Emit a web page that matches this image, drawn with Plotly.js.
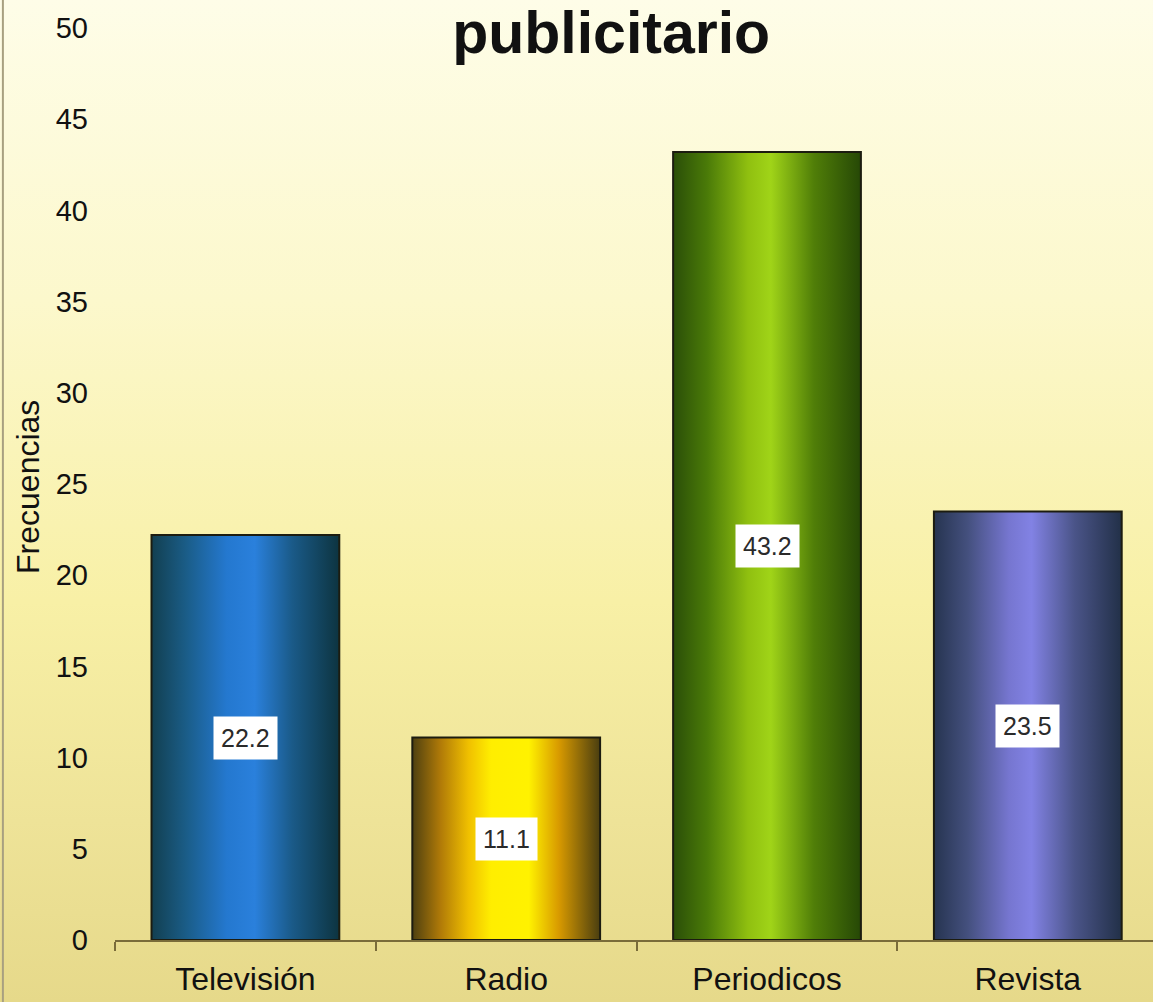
<!DOCTYPE html>
<html>
<head>
<meta charset="utf-8">
<script src="https://cdn.plot.ly/plotly-3.0.1.min.js"></script>
<style>
  html, body { margin: 0; padding: 0; }
  #chart {
    width: 1153px; height: 1002px;
    background: linear-gradient(to bottom, #fefde8 0%, #fcf8cc 30%, #f8f0a6 60%, #eee398 82%, #e6d98a 100%);
  }
</style>
</head>
<body>
<div id="chart"></div>
<script>
// ---- data ----
const categories = ["Televisión", "Radio", "Periodicos", "Revista"];
const values = [22.2, 11.1, 43.2, 23.5];
const valueLabels = ["22.2", "11.1", "43.2", "23.5"];
const yTickValues = [0, 5, 10, 15, 20, 25, 30, 35, 40, 45, 50];
const yAxisTitle = "Frecuencias";
const chartTitle = "publicitario";

// ---- styles ----
const baseColors = ["#1f5f9a", "#e8c000", "#6a9a10", "#5a60a8"];
const gradientStops = [
  [["0", "#123f50"], ["0.18", "#1a5c86"], ["0.40", "#2478cf"], ["0.55", "#2a80dc"], ["0.75", "#1a5a88"], ["1", "#0d3440"]],
  [["0", "#4e4010"], ["0.15", "#b07a08"], ["0.30", "#f0c000"], ["0.42", "#ffee00"], ["0.62", "#fff200"], ["0.78", "#d89a00"], ["1", "#4a3e10"]],
  [["0", "#2a4e08"], ["0.18", "#4a7a08"], ["0.40", "#90c010"], ["0.52", "#a0d418"], ["0.75", "#507e08"], ["1", "#264806"]],
  [["0", "#263450"], ["0.18", "#44507e"], ["0.40", "#7676d0"], ["0.52", "#8282e4"], ["0.75", "#4a5488"], ["1", "#223048"]]
];

const trace = {
  type: "bar",
  x: categories,
  y: values,
  width: 0.72,
  marker: { color: baseColors, line: { color: "#1c1c10", width: 2 } },
  hoverinfo: "x+y",
  showlegend: false
};

const annotations = categories.map((c, i) => ({
  x: c, y: values[i] / 2, xref: "x", yref: "y",
  text: valueLabels[i], showarrow: false,
  bgcolor: "#ffffff", borderpad: 7,
  font: { family: "Liberation Sans, Arial, sans-serif", size: 25, color: "#2a2a2a" }
}));
annotations.push({
  text: yAxisTitle, xref: "paper", yref: "paper",
  x: -0.0838, y: 0.482, xanchor: "center", yanchor: "middle",
  textangle: -90, showarrow: false,
  font: { family: "Liberation Sans, Arial, sans-serif", size: 32, color: "#111111" }
});

const layout = {
  width: 1153, height: 1002,
  margin: { l: 115, r: 0, t: 0, b: 62 },
  paper_bgcolor: "rgba(0,0,0,0)",
  plot_bgcolor: "rgba(0,0,0,0)",
  font: { family: "Liberation Sans, Arial, sans-serif", color: "#111111" },
  title: {
    text: "<b>" + chartTitle + "</b>",
    font: { family: "Liberation Sans, Arial, sans-serif", size: 59, color: "#111111" },
    x: 0.478, xref: "paper", xanchor: "center",
    y: 0.968, yref: "container", yanchor: "middle"
  },
  xaxis: {
    type: "category",
    range: [-0.5, 3.48],
    showline: true, linecolor: "#7a6c3a", linewidth: 2,
    ticks: "outside", tickson: "boundaries", ticklen: 9, tickcolor: "#7a6c3a", tickwidth: 2,
    tickfont: { size: 32, color: "#111111" },
    ticklabelstandoff: 10,
    showgrid: false, zeroline: false
  },
  yaxis: {
    range: [0, 51.54],
    tickvals: yTickValues,
    ticktext: yTickValues.map(String),
    ticks: "", showline: false, showgrid: false, zeroline: false,
    tickfont: { size: 29, color: "#111111" },
    ticklabelstandoff: 26
  },
  annotations: annotations,
  shapes: [
    { type: "line", xref: "paper", yref: "paper", x0: -0.108, x1: -0.108, y0: -0.066, y1: 1.0, line: { color: "#a8a080", width: 2 } }
  ]
};

Plotly.newPlot("chart", [trace], layout, { displayModeBar: false, staticPlot: true }).then(gd => {
  const svg = gd.querySelector("svg.main-svg");
  const ns = "http://www.w3.org/2000/svg";
  let defs = svg.querySelector("defs");
  if (!defs) { defs = document.createElementNS(ns, "defs"); svg.insertBefore(defs, svg.firstChild); }
  gradientStops.forEach((stops, i) => {
    const g = document.createElementNS(ns, "linearGradient");
    g.setAttribute("id", "barGrad" + i);
    g.setAttribute("x1", "0"); g.setAttribute("x2", "1");
    g.setAttribute("y1", "0"); g.setAttribute("y2", "0");
    stops.forEach(([o, c]) => {
      const s = document.createElementNS(ns, "stop");
      s.setAttribute("offset", o); s.setAttribute("stop-color", c);
      g.appendChild(s);
    });
    defs.appendChild(g);
  });
  gd.querySelectorAll(".barlayer .point path").forEach((p, i) => {
    p.style.fill = "url(#barGrad" + i + ")";
  });
});
</script>
</body>
</html>
